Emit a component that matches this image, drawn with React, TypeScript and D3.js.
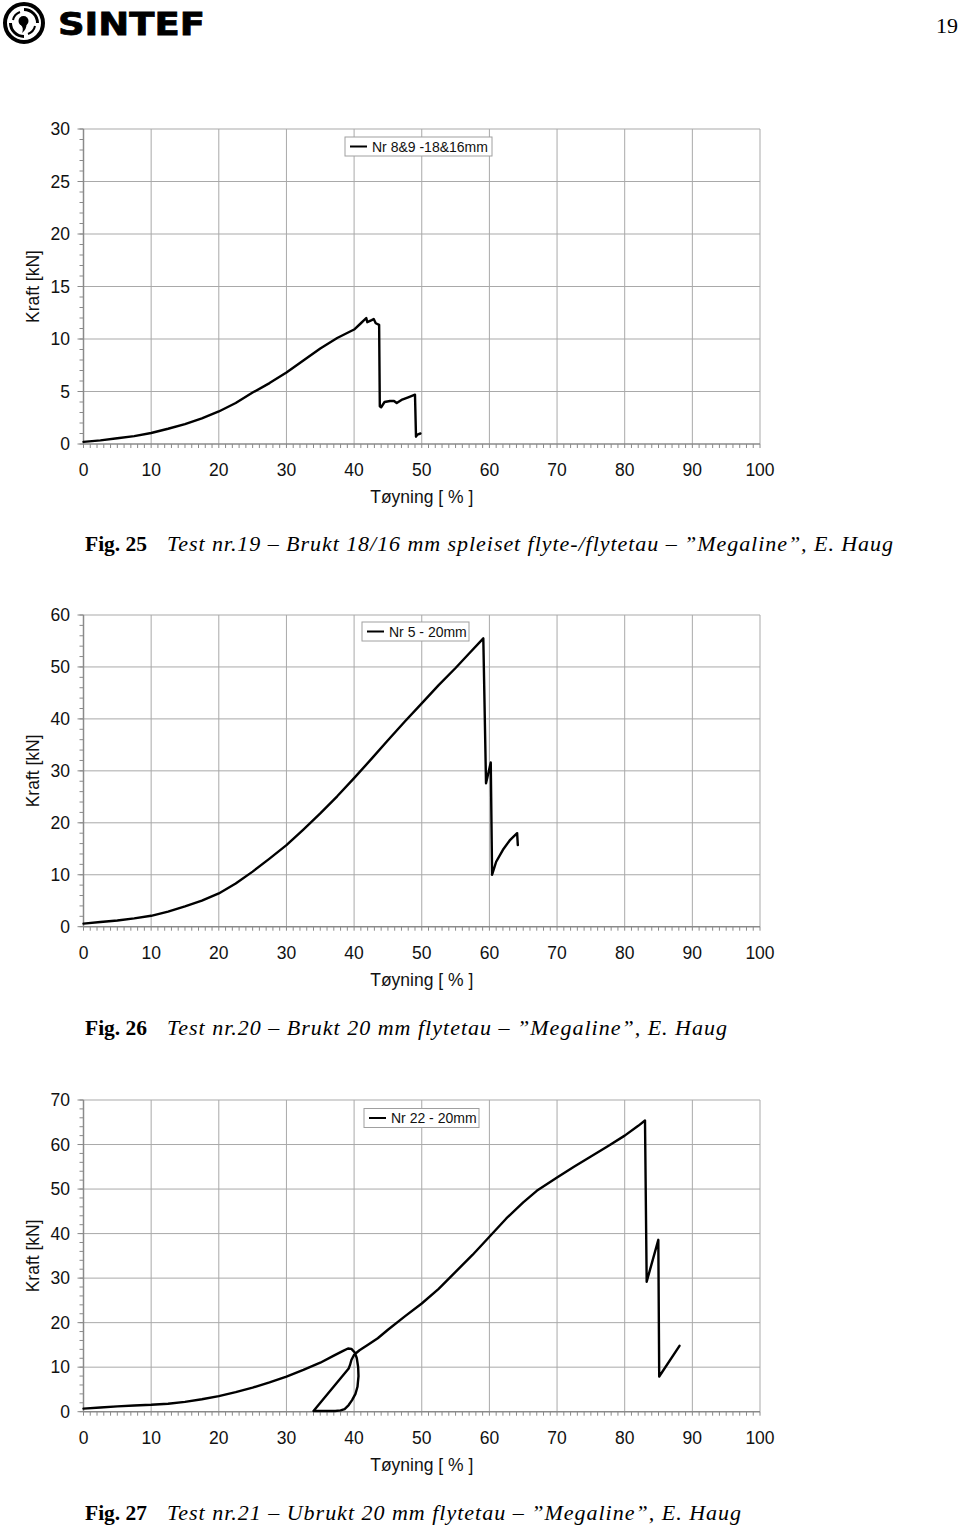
import React from "react";
import * as d3 from "d3";

// ---------- DATA ----------
const xTicks = [0, 10, 20, 30, 40, 50, 60, 70, 80, 90, 100];

// Fig. 25
const strain25 = [0, 2.5, 5, 7.5, 10, 12.5, 15, 17.5, 20, 22.5, 25, 27.5, 30, 32.5, 35, 37.5, 40, 41, 41.8, 41.95, 42.6, 42.9, 43.2, 43.7, 43.8, 44.0, 44.5, 45.3, 45.9, 46.3, 47, 48, 49, 49.15, 49.35, 49.8];
const force25 = [0.2, 0.35, 0.55, 0.75, 1.05, 1.45, 1.9, 2.45, 3.1, 3.9, 4.9, 5.8, 6.8, 7.95, 9.1, 10.1, 10.9, 11.5, 12.0, 11.6, 11.8, 11.9, 11.5, 11.35, 3.6, 3.5, 4.0, 4.1, 4.1, 3.9, 4.2, 4.45, 4.7, 0.7, 0.9, 1.0];
const yTicks25 = [0, 5, 10, 15, 20, 25, 30];

// Fig. 26
const strain26 = [0, 2.5, 5, 7.5, 10, 12.5, 15, 17.5, 20, 22.5, 25, 27.5, 30, 32.5, 35, 37.5, 40, 42.5, 45, 47.5, 50, 52.5, 55, 57, 59.1, 59.5, 60.2, 60.4, 61, 62, 63, 64.1, 64.2];
const force26 = [0.6, 0.9, 1.2, 1.6, 2.1, 2.9, 3.9, 5.0, 6.4, 8.3, 10.6, 13.1, 15.7, 18.7, 21.8, 25.1, 28.6, 32.2, 35.9, 39.5, 43.0, 46.5, 49.8, 52.6, 55.5, 27.6, 31.6, 10.0, 12.5, 14.8, 16.6, 18.0, 15.7];
const yTicks26 = [0, 10, 20, 30, 40, 50, 60];

// Fig. 27
const strain27 = [0, 2.5, 5, 7.5, 10, 12.5, 15, 17.5, 20, 22.5, 25, 27.5, 30, 32.5, 35, 37, 38.3, 39.1, 39.6, 40.1, 40.4, 40.6, 40.65, 40.5, 40.2, 39.7, 39.2, 38.6, 38.0, 37.2, 34.0, 39.2, 39.4, 39.6, 40.0, 40.8, 42, 43.5, 45, 47.5, 50, 52.5, 55, 57.5, 60, 62.5, 65, 67, 70, 72.5, 75, 77.5, 80, 82, 83.0, 83.25, 84.97, 85.1, 88.1];
const force27 = [0.7, 0.95, 1.2, 1.4, 1.55, 1.8, 2.2, 2.8, 3.5, 4.4, 5.4, 6.6, 7.9, 9.4, 11.0, 12.6, 13.6, 14.2, 14.1, 13.3, 12.0, 10.0, 8.0, 5.6, 4.0, 2.6, 1.5, 0.6, 0.3, 0.15, 0.15, 9.7, 10.5, 11.6, 12.8, 13.8, 15.0, 16.5, 18.4, 21.4, 24.3, 27.6, 31.4, 35.2, 39.3, 43.4, 47.0, 49.6, 52.6, 55.0, 57.3, 59.6, 62.0, 64.2, 65.4, 29.2, 38.6, 7.9, 14.8];
const yTicks27 = [0, 10, 20, 30, 40, 50, 60, 70];

const legend25 = "Nr 8&9 -18&16mm";
const legend26 = "Nr 5 - 20mm";
const legend27 = "Nr 22 - 20mm";

const xTitle = "Tøyning [ % ]";
const yTitle = "Kraft [kN]";

// ---------- STYLE ----------
const SANS = "'Liberation Sans', Arial, Helvetica, sans-serif";
const SERIF = "'Liberation Serif', 'Times New Roman', serif";
const GRID = "#a9a9a9";
const AXIS = "#8a8a8a";
const X0 = 83.5;
const X1 = 760;

type ChartProps = {
  top: number;
  bottom: number;
  strain: number[];
  force: number[];
  yTicks: number[];
  yMinor: number;
  legend: string;
  lx: number;
  ly: number;
  lw: number;
};

function Chart({ top, bottom, strain, force, yTicks, yMinor, legend, lx, ly, lw }: ChartProps) {
  const yMax = yTicks[yTicks.length - 1];
  const x = d3.scaleLinear().domain([0, 100]).range([X0, X1]);
  const y = d3.scaleLinear().domain([0, yMax]).range([bottom, top]);
  const pts: [number, number][] = strain.map((s, i) => [s, force[i]]);
  const line = d3
    .line<[number, number]>()
    .x((d) => x(d[0]))
    .y((d) => y(d[1]));
  const xMinor = d3.range(0, 101, 1);
  const yMin = d3.range(0, yMax + 0.001, yMinor);
  const midX = (X0 + X1) / 2;
  const midY = (top + bottom) / 2;
  return (
    <g>
      {xTicks.filter((t) => t > 0).map((t) => (
        <line key={"gx" + t} x1={x(t)} x2={x(t)} y1={top} y2={bottom} stroke={GRID} strokeWidth={1} />
      ))}
      {yTicks.filter((t) => t > 0).map((t) => (
        <line key={"gy" + t} x1={X0} x2={X1} y1={y(t)} y2={y(t)} stroke={GRID} strokeWidth={1} />
      ))}
      {xMinor.map((t) => (
        <line key={"mx" + t} x1={x(t)} x2={x(t)} y1={bottom} y2={bottom + 4} stroke={AXIS} strokeWidth={1} />
      ))}
      {yMin.map((t) => (
        <line key={"my" + t} x1={X0 - 4} x2={X0} y1={y(t)} y2={y(t)} stroke={AXIS} strokeWidth={1} />
      ))}
      {yTicks.map((t) => (
        <line key={"My" + t} x1={X0 - 6} x2={X0} y1={y(t)} y2={y(t)} stroke={AXIS} strokeWidth={1} />
      ))}
      <line x1={X0} x2={X0} y1={top} y2={bottom} stroke={AXIS} strokeWidth={1.5} />
      <line x1={X0} x2={X1} y1={bottom} y2={bottom} stroke={AXIS} strokeWidth={1.5} />
      {yTicks.map((t) => (
        <text key={"ly" + t} x={70} y={y(t)} dy="0.36em" textAnchor="end" fontFamily={SANS} fontSize={17.5} fill="#111">
          {t}
        </text>
      ))}
      {xTicks.map((t) => (
        <text key={"lx" + t} x={x(t)} y={bottom + 32} textAnchor="middle" fontFamily={SANS} fontSize={17.5} fill="#111">
          {t}
        </text>
      ))}
      <text x={midX} y={bottom + 59} textAnchor="middle" fontFamily={SANS} fontSize={17.5} fill="#111">
        {xTitle}
      </text>
      <text
        transform={`translate(39,${midY}) rotate(-90)`}
        textAnchor="middle"
        fontFamily={SANS}
        fontSize={17.5}
        fill="#111"
      >
        {yTitle}
      </text>
      <path d={line(pts) || ""} fill="none" stroke="#000" strokeWidth={2.4} strokeLinejoin="round" strokeLinecap="round" />
      <rect x={lx} y={ly} width={lw} height={19} fill="#fff" stroke="#a0a0a0" strokeWidth={1} />
      <line x1={lx + 5} x2={lx + 22} y1={ly + 9.5} y2={ly + 9.5} stroke="#000" strokeWidth={2} />
      <text x={lx + 27} y={ly + 14.5} fontFamily={SANS} fontSize={14} fill="#111">
        {legend}
      </text>
    </g>
  );
}

function Caption({ y, fig, rest, end }: { y: number; fig: string; rest: string; end: number }) {
  return (
    <g>
      <text x={85} y={y} fontFamily={SERIF} fontSize={21.5} fontWeight="bold" fill="#000">
        {fig}
      </text>
      <text
        x={167}
        y={y}
        fontFamily={SERIF}
        fontSize={22}
        fontStyle="italic"
        fill="#000"
        textLength={end - 167}
        lengthAdjust="spacing"
      >
        {rest}
      </text>
    </g>
  );
}

function Logo() {
  return (
    <g>
      <circle cx={24} cy={23} r={19} fill="none" stroke="#000" strokeWidth={4} />
      <path d="M 24 9.5 A 13.5 13.5 0 0 1 37.5 23" fill="none" stroke="#000" strokeWidth={3} />
      <path d="M 24 36.5 A 13.5 13.5 0 0 1 10.5 23" fill="none" stroke="#000" strokeWidth={3} />
      <path d="M 13 20 A 11 11 0 0 1 20 12" fill="none" stroke="#000" strokeWidth={2} />
      <path d="M 35 26 A 11 11 0 0 1 28 34" fill="none" stroke="#000" strokeWidth={2} />
      <circle cx={23.5} cy={21} r={5} fill="#000" />
      <path d="M 26.5 23 Q 27 29 22 33 Q 24 28 21 25 Z" fill="#000" />
      <text
        x={58}
        y={35}
        fontFamily="'DejaVu Sans', 'Liberation Sans', sans-serif"
        fontWeight="bold"
        fontSize={32}
        textLength={147}
        lengthAdjust="spacingAndGlyphs"
        fill="#000"
        stroke="#000"
        strokeWidth={0.8}
      >
        SINTEF
      </text>
    </g>
  );
}

export default function App() {
  return (
    <svg
      width={960}
      height={1529}
      viewBox="0 0 960 1529"
      style={{ position: "absolute", left: 0, top: 0, background: "#fff" }}
    >
      <rect x={0} y={0} width={960} height={1529} fill="#fff" />
      <Logo />
      <text x={958} y={33} textAnchor="end" fontFamily={SERIF} fontSize={22} fill="#000">
        19
      </text>

      <Chart top={129} bottom={444} strain={strain25} force={force25} yTicks={yTicks25} yMinor={1} legend={legend25} lx={345} ly={137} lw={147} />
      <Caption y={551} end={893} fig="Fig. 25" rest="Test nr.19 – Brukt 18/16 mm spleiset flyte-/flytetau – ”Megaline”, E. Haug" />

      <Chart top={615} bottom={926.7} strain={strain26} force={force26} yTicks={yTicks26} yMinor={2} legend={legend26} lx={362} ly={622} lw={107} />
      <Caption y={1035} end={727} fig="Fig. 26" rest="Test nr.20 – Brukt 20 mm flytetau – ”Megaline”, E. Haug" />

      <Chart top={1100} bottom={1411.7} strain={strain27} force={force27} yTicks={yTicks27} yMinor={2} legend={legend27} lx={364} ly={1108.5} lw={115} />
      <Caption y={1520} end={741} fig="Fig. 27" rest="Test nr.21 – Ubrukt 20 mm flytetau – ”Megaline”, E. Haug" />
    </svg>
  );
}
